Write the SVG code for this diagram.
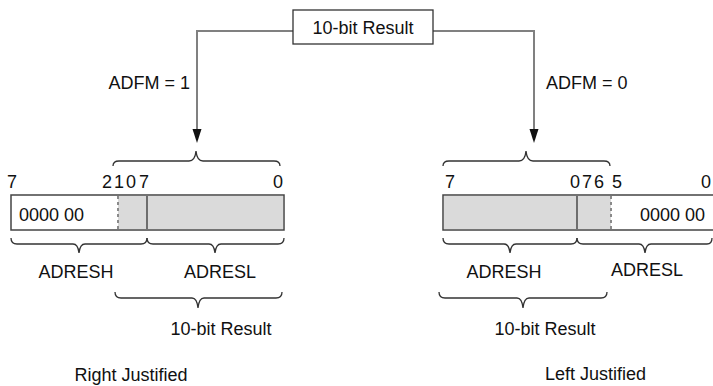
<svg xmlns="http://www.w3.org/2000/svg" width="713" height="386" viewBox="0 0 713 386">
<defs>
<style>
text{font-family:"Liberation Sans",Arial,sans-serif;font-size:18px;fill:#111}
.mid{text-anchor:middle}
.end{text-anchor:end}
.conn{fill:none;stroke:#808080;stroke-width:2}
.brace{fill:none;stroke:#333;stroke-width:1.3}
.reg{fill:#fff;stroke:#444;stroke-width:1.5}
.grey{fill:#dadada;stroke:none}
.div{stroke:#333;stroke-width:1.3}
.dash{stroke:#8a8a8a;stroke-width:2;stroke-dasharray:3,3}
.head{fill:#111}
</style>
</defs>
<rect width="713" height="386" fill="#fff"/>

<g id="connectors">
<path class="conn" d="M293,31 H197 V129"/>
<path class="head" d="M192.5,129 L201.5,129 L197,143 Z"/>
<path class="conn" d="M433,31 H534 V129"/>
<path class="head" d="M529.5,129 L538.5,129 L534,143 Z"/>
<text class="end" x="190" y="89">ADFM = 1</text>
<text x="546" y="89">ADFM = 0</text>
</g>

<g id="result-box">
<rect x="293" y="10" width="140" height="34" fill="#fff" stroke="#333" stroke-width="1.3"/>
<text class="mid" x="363" y="34">10-bit Result</text>
</g>

<g id="right-justified">
<path class="brace" d="M113,166 Q113,161 119,161 L189,161 Q195,161 196,151 Q197,161 203,161 L274,161 Q280,161 280,166"/>
<text class="mid" x="12" y="188">7</text>
<text class="mid" x="107" y="188">2</text>
<text class="mid" x="119" y="188">1</text>
<text class="mid" x="131" y="188">0</text>
<text class="mid" x="144" y="188">7</text>
<text class="mid" x="278" y="188">0</text>
<rect class="reg" x="11" y="195" width="273" height="35"/>
<rect class="grey" x="118" y="196" width="165" height="33"/>
<line class="dash" x1="118" y1="196" x2="118" y2="229"/>
<line class="div" x1="147" y1="196" x2="147" y2="229"/>
<text x="19" y="221">0000 00</text>
<path class="brace" d="M11,238 Q11,244 17,244 L73,244 Q78,244 79,253 Q80,244 85,244 L141,244 Q147,244 147,238"/>
<path class="brace" d="M147,238 Q147,244 153,244 L209,244 Q214,244 215,253 Q216,244 221,244 L278,244 Q284,244 284,238"/>
<text class="mid" x="76" y="278">ADRESH</text>
<text class="mid" x="220" y="278">ADRESL</text>
<path class="brace" d="M115,292 Q115,298 121,298 L192,298 Q197,298 198,308 Q199,298 204,298 L276,298 Q282,298 282,292"/>
<text class="mid" x="221" y="335">10-bit Result</text>
<text class="mid" x="131" y="381">Right Justified</text>
</g>

<g id="left-justified">
<path class="brace" d="M443,166 Q443,161 449,161 L519,161 Q525,161 526,151 Q527,161 533,161 L604,161 Q610,161 610,166"/>
<text class="mid" x="450" y="188">7</text>
<text class="mid" x="575" y="188">0</text>
<text class="mid" x="587" y="188">7</text>
<text class="mid" x="599" y="188">6</text>
<text class="mid" x="617" y="188">5</text>
<text class="mid" x="706" y="188">0</text>
<rect class="reg" x="443" y="195" width="290" height="35"/>
<rect class="grey" x="444" y="196" width="167" height="33"/>
<line class="dash" x1="611" y1="196" x2="611" y2="229"/>
<line class="div" x1="577" y1="196" x2="577" y2="229"/>
<text x="640" y="221">0000 00</text>
<path class="brace" d="M443,238 Q443,244 449,244 L504,244 Q509,244 510,253 Q511,244 516,244 L571,244 Q577,244 577,238"/>
<path class="brace" d="M577,238 Q577,244 583,244 L639,244 Q644,244 645,253 Q646,244 651,244 L707,244 Q712,244 712,238"/>
<text class="mid" x="504" y="278">ADRESH</text>
<text class="mid" x="647" y="276">ADRESL</text>
<path class="brace" d="M439,292 Q439,298 445,298 L517,298 Q522,298 523,308 Q524,298 529,298 L601,298 Q607,298 607,292"/>
<text class="mid" x="545" y="335">10-bit Result</text>
<text x="545" y="380">Left Justified</text>
</g>
</svg>
